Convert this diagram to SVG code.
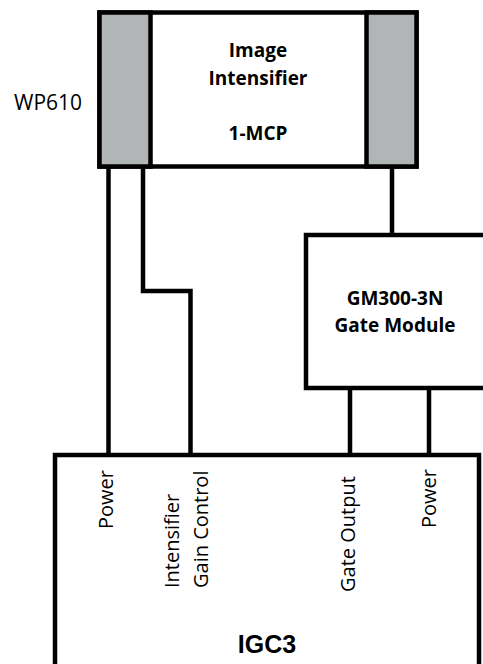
<svg xmlns="http://www.w3.org/2000/svg" width="483" height="664" viewBox="0 0 483 664">
<style>
.box{fill:#fff;stroke:#000;stroke-width:4.5}
.panel{fill:#b2b5b5;stroke:#000;stroke-width:4.5}
.wire{fill:none;stroke:#000;stroke-width:4.5}
.bold{font-family:"Open Sans",sans-serif;font-weight:bold;font-size:19px;fill:#000;text-anchor:middle}
.reg{font-family:"Open Sans",sans-serif;font-size:20px;fill:#000}
.big{font-family:"Liberation Sans",Arial,sans-serif;font-weight:bold;font-size:25px;fill:#000;text-anchor:middle}
</style>
<rect width="483" height="664" fill="#fff"/>
<g id="connectors">
<path class="wire" d="M108.5,168 V455"/>
<path class="wire" d="M143,168 V291 H190.5 V455"/>
<path class="wire" d="M392,168 V235"/>
<path class="wire" d="M350,388 V455"/>
<path class="wire" d="M429,388 V455"/>
</g>
<g id="image-intensifier">
<rect class="box" x="99.5" y="12.5" width="317" height="154"/>
<rect class="panel" x="99.5" y="12.5" width="51" height="154"/>
<rect class="panel" x="366.5" y="12.5" width="50" height="154"/>
<text class="bold" x="258" y="57">Image</text>
<text class="bold" x="258" y="85">Intensifier</text>
<text class="bold" x="258" y="140">1-MCP</text>
</g>
<g id="wp610-label">
<text class="reg" x="14" y="110" style="font-size:21px">WP610</text>
</g>
<g id="gate-module">
<rect class="box" x="306" y="235" width="182" height="153"/>
<text class="bold" x="395" y="305">GM300-3N</text>
<text class="bold" x="395" y="332">Gate Module</text>
</g>
<g id="igc3">
<rect class="box" x="55" y="455" width="424" height="220"/>
<text class="reg" transform="translate(113,529) rotate(-90)">Power</text>
<text class="reg" transform="translate(179,588) rotate(-90)">Intensifier</text>
<text class="reg" transform="translate(208,588) rotate(-90)">Gain Control</text>
<text class="reg" transform="translate(355,592) rotate(-90)">Gate Output</text>
<text class="reg" transform="translate(436,528) rotate(-90)">Power</text>
<text class="big" x="267" y="653">IGC3</text>
</g>
</svg>
